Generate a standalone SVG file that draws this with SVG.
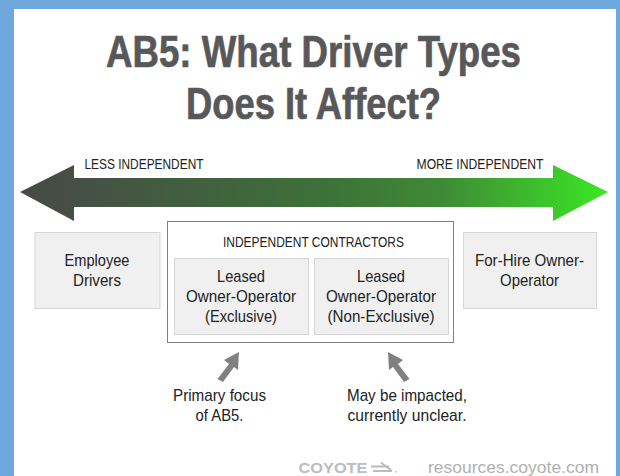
<svg xmlns="http://www.w3.org/2000/svg" width="620" height="476" viewBox="0 0 620 476">
<style>
text{font-family:"Liberation Sans",sans-serif;text-anchor:middle;fill:#222;font-size:17px}
.title{font-size:45px;font-weight:bold;fill:#58585a;stroke:#58585a;stroke-width:.7px}
.small{font-size:15px}
.box{fill:#f0f0f0;stroke:#d6d6d6;stroke-width:1}
.foot{fill:#b0b0b0}
</style>
<defs>
<linearGradient id="g" x1="20" x2="608" y1="0" y2="0" gradientUnits="userSpaceOnUse">
<stop offset="0" stop-color="#484848"/><stop offset=".5" stop-color="#3c7038"/><stop offset=".72" stop-color="#3f8a36"/><stop offset="1" stop-color="#3be825"/>
</linearGradient>
</defs>
<rect width="620" height="476" fill="#6fa8dc"/>
<rect x="14" y="9" width="602" height="467" fill="#fff"/>
<g id="title">
<text class="title" x="313.500" y="66.500" textLength="415" lengthAdjust="spacingAndGlyphs">AB5: What Driver Types</text>
<text class="title" x="313.500" y="118.500" textLength="255" lengthAdjust="spacingAndGlyphs">Does It Affect?</text>
</g>
<g id="scale">
<path d="M20 192 74 165V178H553V165L608 192 553 221V207H74V221Z" fill="url(#g)"/>
<text class="small" x="144" y="169" textLength="119" lengthAdjust="spacingAndGlyphs">LESS INDEPENDENT</text>
<text class="small" x="480" y="169" textLength="127" lengthAdjust="spacingAndGlyphs">MORE INDEPENDENT</text>
</g>
<g id="employee">
<rect class="box" x="35" y="232.500" width="125" height="76"/>
<text x="97" y="266" textLength="65" lengthAdjust="spacingAndGlyphs">Employee</text>
<text x="97" y="286" textLength="48" lengthAdjust="spacingAndGlyphs">Drivers</text>
</g>
<g id="contractors">
<rect x="167.500" y="221.500" width="286" height="121" fill="#fff" stroke="#808080" stroke-width="1"/>
<text class="small" x="313.500" y="247" textLength="181" lengthAdjust="spacingAndGlyphs">INDEPENDENT CONTRACTORS</text>
</g>
<g id="exclusive">
<rect class="box" x="174.500" y="258.500" width="134" height="76"/>
<text x="241" y="282" textLength="48" lengthAdjust="spacingAndGlyphs">Leased</text>
<text x="241" y="302" textLength="110" lengthAdjust="spacingAndGlyphs">Owner-Operator</text>
<text x="241" y="322" textLength="72" lengthAdjust="spacingAndGlyphs">(Exclusive)</text>
</g>
<g id="nonexclusive">
<rect class="box" x="314.500" y="258.500" width="134" height="76"/>
<text x="381" y="282" textLength="48" lengthAdjust="spacingAndGlyphs">Leased</text>
<text x="381" y="302" textLength="110" lengthAdjust="spacingAndGlyphs">Owner-Operator</text>
<text x="381" y="322" textLength="107" lengthAdjust="spacingAndGlyphs">(Non-Exclusive)</text>
</g>
<g id="forhire">
<rect class="box" x="463.500" y="232.500" width="133" height="76"/>
<text x="529.500" y="266" textLength="109" lengthAdjust="spacingAndGlyphs">For-Hire Owner-</text>
<text x="529.500" y="286" textLength="59" lengthAdjust="spacingAndGlyphs">Operator</text>
</g>
<g id="connectors" fill="#808080">
<path d="M239 352 224 360 229 364 217.500 379 223 382 234 367 238 370Z"/>
<path d="M388 352 403 360 398 364 409.500 379 404 382 393 367 389 370Z"/>
</g>
<g id="note-primary">
<text x="219.500" y="401" textLength="93" lengthAdjust="spacingAndGlyphs">Primary focus</text>
<text x="219.500" y="421" textLength="48" lengthAdjust="spacingAndGlyphs">of AB5.</text>
</g>
<g id="note-impacted">
<text x="407" y="401" textLength="120" lengthAdjust="spacingAndGlyphs">May be impacted,</text>
<text x="407" y="421" textLength="119" lengthAdjust="spacingAndGlyphs">currently unclear.</text>
</g>
<g id="footer">
<text class="foot" x="333" y="473" style="font-size:14px;font-weight:bold;fill:#bcbcbc" textLength="69" lengthAdjust="spacingAndGlyphs">COYOTE</text>
<path d="M371 466.500H389M381 462.500 392 471M373 471H392" fill="none" stroke="#bcbcbc" stroke-width="1.800"/>
<rect x="395" y="471" width="1.500" height="1.500" fill="#bcbcbc"/>
<text class="foot" x="513.500" y="473" textLength="171" lengthAdjust="spacingAndGlyphs">resources.coyote.com</text>
</g>
</svg>
